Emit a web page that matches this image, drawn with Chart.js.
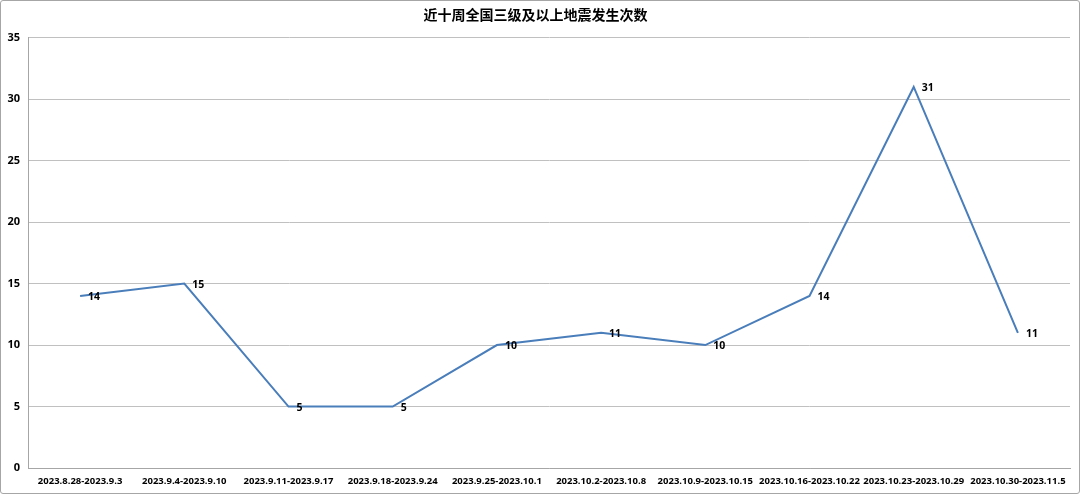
<!DOCTYPE html>
<html>
<head>
<meta charset="utf-8">
<script src="https://cdn.jsdelivr.net/npm/chart.js@4"></script>
<style>
  html, body { margin: 0; padding: 0; background: #fff; }
  #box { width: 1080px; height: 494px; box-sizing: border-box; border: 1px solid #a6a6a6; border-radius: 3px; overflow: hidden; }
  #wrap { width: 1078px; height: 492px; position: relative; }
</style>
</head>
<body>
<div id="box"><div id="wrap"><canvas id="chart"></canvas></div></div>
<script>
// datos
const semanas = [
  '2023.8.28-2023.9.3', '2023.9.4-2023.9.10', '2023.9.11-2023.9.17', '2023.9.18-2023.9.24',
  '2023.9.25-2023.10.1', '2023.10.2-2023.10.8', '2023.10.9-2023.10.15', '2023.10.16-2023.10.22',
  '2023.10.23-2023.10.29', '2023.10.30-2023.11.5'
];
const sismos = [14, 15, 5, 5, 10, 11, 10, 14, 31, 11];
const yTicks = [0, 5, 10, 15, 20, 25, 30, 35];

const titulo = '近十周全国三级及以上地震发生次数';
const fuente = '"Open Sans", "Noto Sans CJK SC", sans-serif';

// etiquetas a la derecha de cada punto
const etiquetas = {
  id: 'etiquetas',
  afterDatasetsDraw(chart) {
    const ctx = chart.ctx;
    const meta = chart.getDatasetMeta(0);
    ctx.save();
    ctx.font = 'bold 10.5px ' + fuente;
    ctx.fillStyle = '#000';
    ctx.textAlign = 'left';
    ctx.textBaseline = 'middle';
    meta.data.forEach((p, i) => {
      ctx.fillText(String(sismos[i]), p.x + 8, p.y + 1);
    });
    ctx.restore();
  }
};

new Chart(document.getElementById('chart'), {
  type: 'line',
  data: {
    labels: semanas,
    datasets: [{
      data: sismos,
      borderColor: '#4a7ebb',
      borderWidth: 2,
      pointRadius: 0,
      tension: 0
    }]
  },
  options: {
    responsive: true,
    maintainAspectRatio: false,
    animation: false,
    layout: { padding: { left: 0, right: 9, top: 0, bottom: 0 } },
    plugins: {
      legend: { display: false },
      tooltip: { enabled: false },
      title: {
        display: true,
        text: titulo,
        color: '#000',
        font: { family: '"Noto Sans CJK SC", sans-serif', size: 14, weight: 'bold' },
        padding: { top: 5, bottom: 15 }
      }
    },
    scales: {
      x: {
        offset: true,
        grid: { display: false, drawTicks: false },
        border: { color: '#a6a6a6' },
        ticks: {
          autoSkip: false, maxRotation: 0, minRotation: 0,
          color: '#000', padding: 8,
          font: { family: fuente, size: 9.5, weight: 'bold' }
        },
        afterFit(scale) { scale.height = 25; }
      },
      y: {
        min: 0, max: 35,
        afterBuildTicks(scale) { scale.ticks = yTicks.map(v => ({ value: v })); },
        grid: { color: '#c0c0c0', drawTicks: false },
        border: { color: '#a6a6a6' },
        ticks: {
          color: '#000', padding: 8,
          font: { family: fuente, size: 11, weight: 'bold' }
        },
        afterFit(scale) { scale.width = 27; }
      }
    }
  },
  plugins: [etiquetas]
});
</script>
</body>
</html>
